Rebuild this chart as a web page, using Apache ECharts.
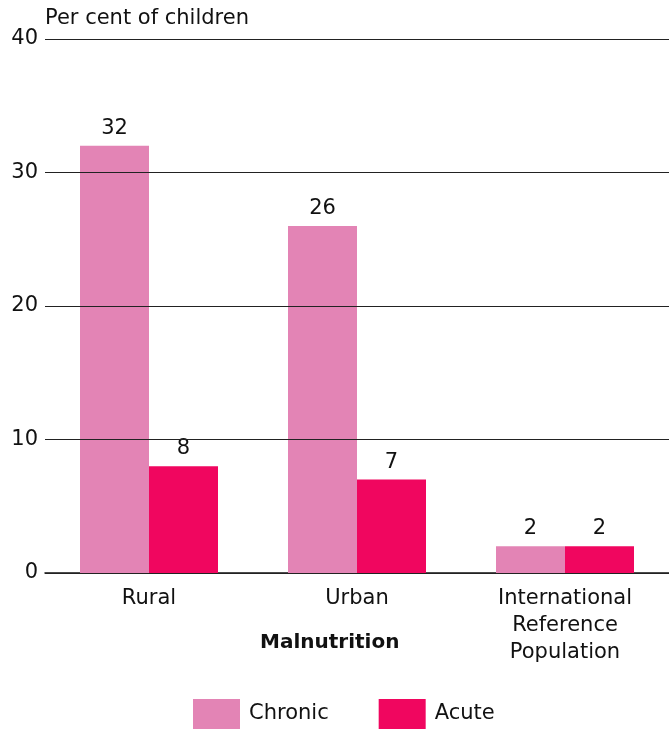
<!DOCTYPE html>
<html><head><meta charset="utf-8">
<script src="https://cdn.jsdelivr.net/npm/echarts@6/dist/echarts.min.js"></script>
<style>html,body{margin:0;padding:0;background:#fff}#c{width:669px;height:730px}</style>
</head><body><div id="c"></div>
<script>
const categories = ['Rural', 'Urban', 'International\nReference\nPopulation'];
const chronic = [32, 26, 2];
const acute = [8, 7, 2];
const yTicks = [0, 10, 20, 30, 40];
const seriesNames = ['Chronic', 'Acute'];

const font = 'DejaVu Sans, Liberation Sans, sans-serif';
const chart = echarts.init(document.getElementById('c'), null, {renderer: 'canvas'});
const lbl = {show: true, position: 'top', distance: 7, color: '#111', fontSize: 21, fontFamily: font};
chart.setOption({
  animation: false,
  textStyle: {fontFamily: font},
  title: {text: 'Per cent of children', left: 45, top: 8, padding: 0,
    textStyle: {fontSize: 21, fontWeight: 'normal', color: '#111', fontFamily: font}},
  legend: {left: 193, top: 699, padding: 0, itemWidth: 47, itemHeight: 30, itemGap: 50,
    textStyle: {fontSize: 21, color: '#111', fontFamily: font, padding: [0, 0, 0, 4]},
    data: seriesNames, icon: 'rect'},
  grid: {left: 45, top: 39, width: 627, height: 534, containLabel: false},
  graphic: [{type: 'text', left: 260, top: 633,
    style: {text: 'Malnutrition', fontSize: 20, fontWeight: 'bold', fill: '#111', fontFamily: font}}],
  xAxis: {type: 'category', data: categories,
    axisLine: {show: true, lineStyle: {color: '#111', width: 1.5}},
    axisTick: {show: false},
    axisLabel: {color: '#111', fontSize: 21, lineHeight: 27, margin: 12, fontFamily: font, interval: 0}},
  yAxis: {type: 'value', min: yTicks[0], max: yTicks[yTicks.length-1], interval: 10, z: 3,
    axisLine: {show: false}, axisTick: {show: false},
    axisLabel: {color: '#111', fontSize: 21, margin: 7, fontFamily: font},
    splitLine: {lineStyle: {color: '#222', width: 1}}},
  series: [
    {name: seriesNames[0], type: 'bar', data: chronic, barWidth: 69, barGap: '0%',
     itemStyle: {color: '#e384b5'}, label: lbl},
    {name: seriesNames[1], type: 'bar', data: acute, barWidth: 69, barGap: '0%',
     itemStyle: {color: '#f0065f'}, label: lbl}
  ]
});
</script></body></html>
